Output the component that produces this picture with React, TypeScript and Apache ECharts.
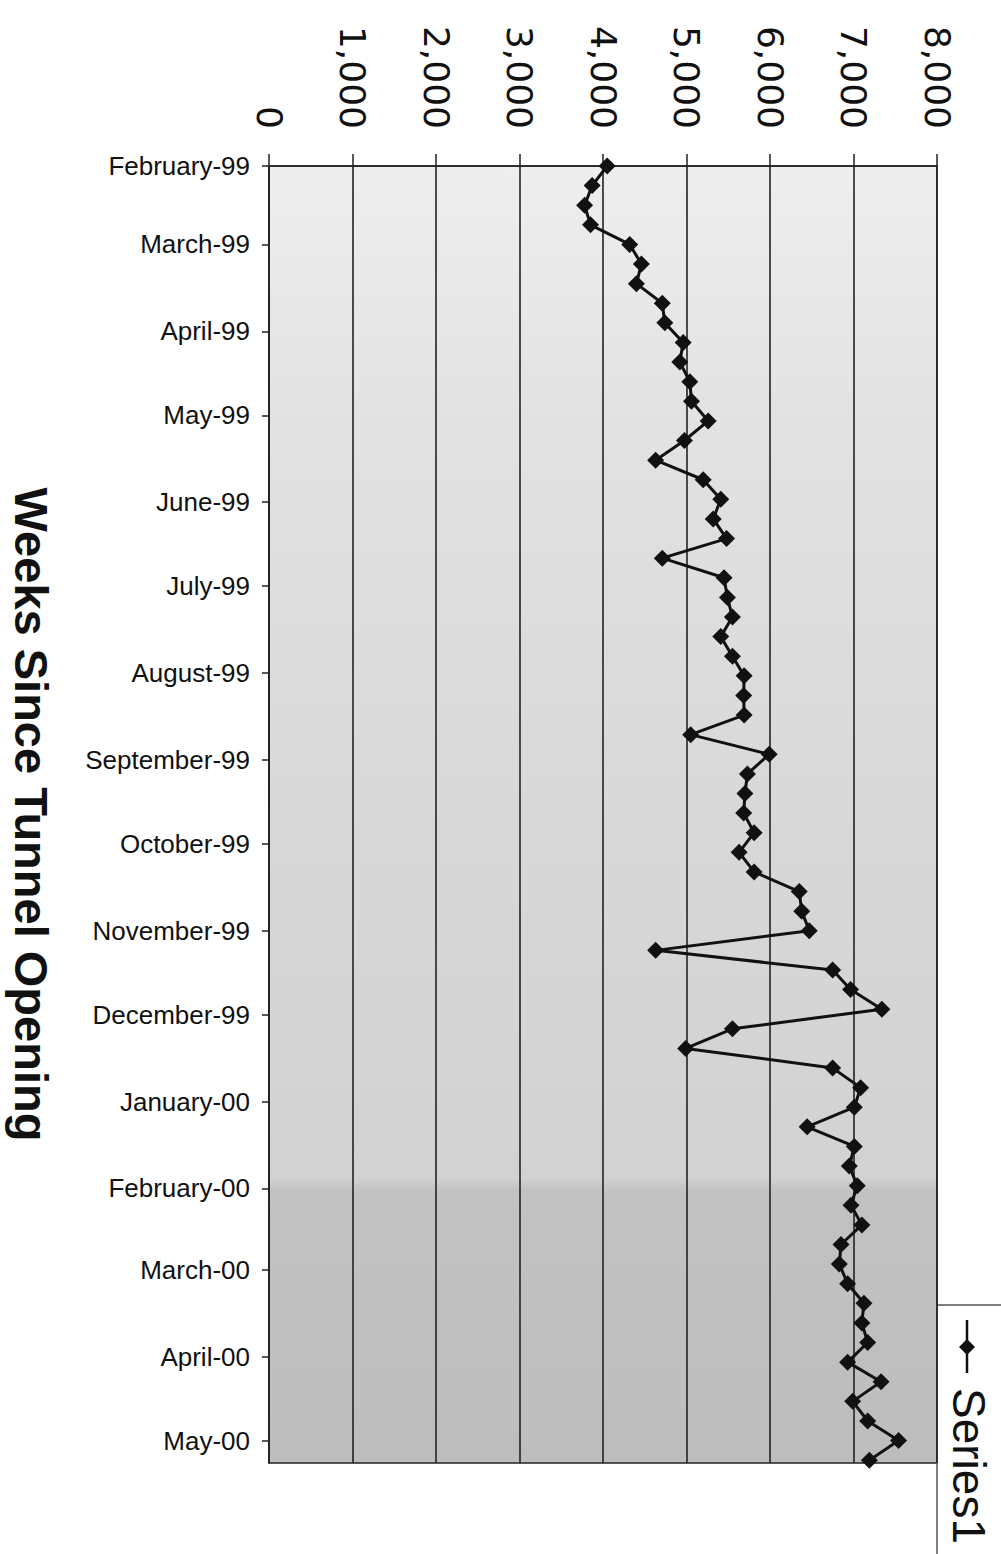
import React, { useEffect, useRef } from "react";
import * as echarts from "echarts";

const monthLabels = [
  "February-99", "March-99", "April-99", "May-99", "June-99", "July-99",
  "August-99", "September-99", "October-99", "November-99", "December-99",
  "January-00", "February-00", "March-00", "April-00", "May-00",
];

// weekly observations starting Monday 1 Feb 1999
const weeklyValues = [
  4050, 3870, 3780, 3850, 4320, 4460, 4400, 4710, 4740, 4960,
  4920, 5040, 5060, 5260, 4975, 4630, 5200, 5410, 5320, 5480,
  4710, 5450, 5490, 5550, 5410, 5550, 5690, 5685, 5690, 5050,
  5990, 5730, 5700, 5685, 5810, 5630, 5810, 6350, 6380, 6470,
  4630, 6750, 6965, 7340, 5550, 4990, 6750, 7085, 7010, 6445,
  7010, 6950, 7045, 6970, 7100, 6850, 6830, 6930, 7125, 7100,
  7170, 6930, 7330, 6990, 7170, 7540, 7190,
];

const valueTicks = [0, 8000, 1000];

export default function App() {
  const ref = useRef<HTMLDivElement>(null);

  useEffect(() => {
    document.body.style.margin = "0";
    const chart = echarts.init(ref.current!, null, { renderer: "svg" });

    const dayMs = 24 * 3600 * 1000;
    const startUTC = Date.UTC(1999, 1, 1);
    const dayOf = (y: number, m: number, d: number) =>
      Math.round((Date.UTC(y, m, d) - startUTC) / dayMs);
    // series: [value, days since 1 Feb 1999]
    const seriesData = weeklyValues.map((v, i) => [v, i * 7]);
    const monthDays = monthLabels.map((_, i) => dayOf(1999, 1 + i, 1));
    const axisMax = dayOf(2000, 4, 9);

    const labelFor = (val: number) => {
      const idx = monthDays.indexOf(Math.round(val));
      return idx >= 0 ? monthLabels[idx] : "";
    };

    chart.setOption({
      animation: false,
      backgroundColor: "#ffffff",
      grid: {
        left: 269,
        right: 64,
        top: 166,
        bottom: 91,
        outerBoundsMode: "none",
        containLabel: false,
        show: true,
        borderColor: "#222",
        borderWidth: 1.5,
        backgroundColor: new echarts.graphic.LinearGradient(0, 0, 0, 1, [
          { offset: 0, color: "#eeeeee" },
          { offset: 0.2, color: "#e2e2e2" },
          { offset: 0.5, color: "#d8d8d8" },
          { offset: 0.78, color: "#d2d2d2" },
          { offset: 0.79, color: "#c2c2c2" },
          { offset: 1, color: "#bdbdbd" },
        ]),
      },
      xAxis: {
        type: "value",
        position: "top",
        min: valueTicks[0],
        max: valueTicks[1],
        interval: valueTicks[2],
        axisLine: { show: true, lineStyle: { color: "#222", width: 1.5 } },
        axisTick: { show: true, length: 12, lineStyle: { color: "#222", width: 1.5 } },
        splitLine: { show: true, lineStyle: { color: "#222", width: 1.6 } },
        axisLabel: {
          rotate: -90,
          margin: 37,
          fontSize: 36,
          fontFamily: "DejaVu Sans",
          color: "#111",
          formatter: (v: number) => v.toLocaleString("en-US"),
        },
      },
      yAxis: {
        type: "value",
        inverse: true,
        min: 0,
        max: axisMax,
        name: "Weeks Since Tunnel Opening",
        nameLocation: "middle",
        nameRotate: -90,
        nameGap: 214,
        nameTextStyle: {
          fontSize: 47,
          fontWeight: "bold",
          fontFamily: "Liberation Sans",
          color: "#111",
        },
        axisLine: { show: true, lineStyle: { color: "#222", width: 1.5 } },
        axisTick: {
          show: true,
          length: 7,
          customValues: monthDays,
          lineStyle: { color: "#222", width: 1.5 },
        },
        splitLine: { show: false },
        axisLabel: {
          customValues: monthDays,
          margin: 19,
          fontSize: 26,
          fontFamily: "Liberation Sans",
          color: "#111",
          formatter: (v: number) => labelFor(v),
        },
      },
      series: [
        {
          name: "Series1",
          type: "line",
          data: seriesData,
          symbol: "diamond",
          symbolSize: 17,
          lineStyle: { color: "#111", width: 3 },
          itemStyle: { color: "#111" },
          z: 5,
        },
      ],
      graphic: [
        {
          type: "group",
          children: [
            {
              type: "rect",
              shape: { x: 937, y: 1305, width: 70, height: 252 },
              style: { fill: "#ffffff", stroke: "#555", lineWidth: 1.5 },
            },
            {
              type: "line",
              shape: { x1: 967, y1: 1320, x2: 967, y2: 1373 },
              style: { stroke: "#111", lineWidth: 2.5 },
            },
            {
              type: "polygon",
              shape: {
                points: [
                  [967, 1339],
                  [975, 1347],
                  [967, 1355],
                  [959, 1347],
                ],
              },
              style: { fill: "#111" },
            },
            {
              type: "text",
              x: 969,
              y: 1388,
              rotation: -Math.PI / 2,
              style: {
                text: "Series1",
                font: 'normal 46px "Liberation Sans"',
                fill: "#111",
                textAlign: "left",
                textVerticalAlign: "middle",
              },
            },
          ],
        },
      ],
    });

    return () => chart.dispose();
  }, []);

  return <div ref={ref} style={{ width: 1001, height: 1554 }} />;
}
